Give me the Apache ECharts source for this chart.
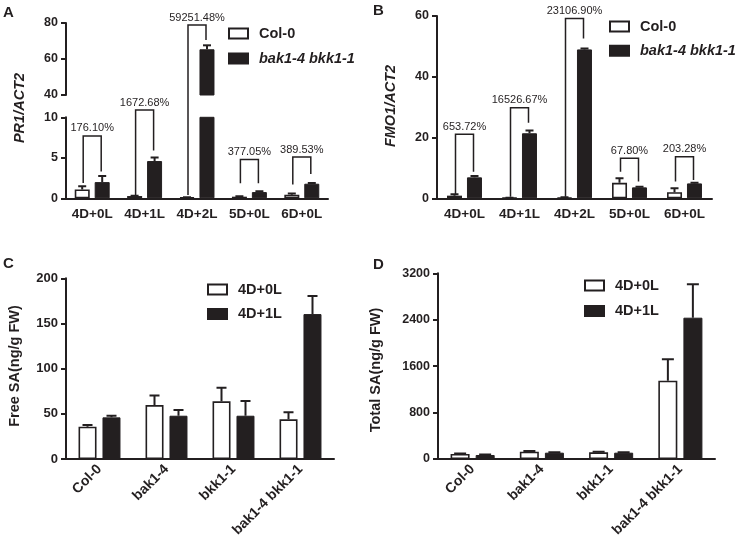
<!DOCTYPE html>
<html>
<head>
<meta charset="utf-8">
<script src="https://cdn.jsdelivr.net/npm/echarts@6/dist/echarts.min.js"></script>
<style>
html, body { margin: 0; padding: 0; background: #fff; }
#main { width: 741px; height: 548px; }
</style>
</head>
<body>
<div id="main"></div>
<script>
// categories
var stages = ['4D+0L', '4D+1L', '4D+2L', '5D+0L', '6D+0L'];
var genotypes = ['Col-0', 'bak1-4', 'bkk1-1', 'bak1-4 bkk1-1'];

// A: PR1/ACT2
var pr1Col = [1.1, 0.28, 0.11, 0.2, 0.45];
var pr1ColErr = [0.4, 0.05, 0.03, 0.05, 0.15];
var pr1Bak = [2.0, 4.6, 65.4, 0.77, 1.8];
var pr1BakErr = [0.75, 0.45, 2.2, 0.1, 0.1];
var pr1Pct = ['176.10%', '1672.68%', '59251.48%', '377.05%', '389.53%'];
var pr1BrLeft = [1.9, 0.3, 0.4, 1.85, 1.7];
var pr1BrTop = [7.7, 10.9, 78.9, 4.8, 5.1];
var pr1BrRight = [3.3, 5.9, 70.6, 1.85, 3.0];

// B: FMO1/ACT2
var fmoCol = [0.87, 0.13, 0.21, 5.1, 2.0];
var fmoColErr = [0.45, 0.07, 0.1, 1.5, 1.3];
var fmoBak = [6.9, 21.4, 49.0, 3.6, 4.9];
var fmoBakErr = [0.4, 0.9, 0.3, 0.2, 0.2];
var fmoPct = ['653.72%', '16526.67%', '23106.90%', '67.80%', '203.28%'];
var fmoBrLeft = [1.1, 0.5, 0.5, 8.75, 5.5];
var fmoBrTop = [21.1, 29.8, 59.2, 13.2, 13.7];
var fmoBrRight = [8.75, 24.9, 52.6, 5.5, 6.0];

// C: free SA
var freeDark = [35.7, 59.7, 63.8, 43.9];
var freeDarkErr = [2.0, 10.7, 15.1, 7.8];
var freeLight = [46.1, 47.9, 47.9, 160.4];
var freeLightErr = [1.8, 6.3, 16.3, 19.9];

// D: total SA
var totalDark = [86, 126, 115, 1350];
var totalDarkErr = [10, 12, 10, 368];
var totalLight = [69, 109, 109, 2435];
var totalLightErr = [8, 8, 8, 576];

var ink = '#231f20';
var FONT = "'Liberation Sans', Arial, sans-serif";

var chart = echarts.init(document.getElementById('main'));

function xAx(grid, cats, rotate, size) {
  return {
    type: 'category', gridIndex: grid, data: cats,
    axisLine: { lineStyle: { color: ink, width: 2 } },
    axisTick: { alignWithLabel: true, length: 4, lineStyle: { color: ink, width: 2 } },
    axisLabel: { color: ink, fontWeight: 'bold', fontSize: size, fontFamily: FONT,
      margin: rotate ? 8 : 9, rotate: rotate, interval: 0 }
  };
}
function yAx(grid, min, max, step, size) {
  return {
    type: 'value', gridIndex: grid, min: min, max: max, interval: step,
    splitLine: { show: false },
    axisLine: { show: true, lineStyle: { color: ink, width: 2 } },
    axisTick: { show: true, length: 5, lineStyle: { color: ink, width: 2 } },
    axisLabel: { color: ink, fontWeight: 'bold', fontSize: size, fontFamily: FONT, margin: 8,
      formatter: function (v) { return String(v); } }
  };
}

function bars(k, name, data, w, gapPct, white) {
  return {
    type: 'bar', name: name, xAxisIndex: k, yAxisIndex: k, data: data,
    barWidth: w, barGap: gapPct, silent: true, clip: true,
    itemStyle: { color: white ? '#fff' : ink, borderColor: ink, borderWidth: white ? 1.6 : 1 }
  };
}

function errors(k, vals, errs, off, cap) {
  return {
    type: 'custom', xAxisIndex: k, yAxisIndex: k, silent: true, clip: true, z: 3,
    data: vals.map(function (v, i) { return [i, v, errs[i]]; }),
    encode: { x: 0, y: 1 },
    renderItem: function (params, api) {
      var base = api.coord([api.value(0), api.value(1)]);
      var top = api.coord([api.value(0), api.value(1) + api.value(2)]);
      var x = base[0] + off;
      var st = { stroke: ink, lineWidth: 2 };
      return { type: 'group', children: [
        { type: 'line', shape: { x1: x, y1: base[1], x2: x, y2: top[1] }, style: st },
        { type: 'line', shape: { x1: x - cap, y1: top[1], x2: x + cap, y2: top[1] }, style: st }
      ] };
    }
  };
}

function legend(left, top, gap, names, italic) {
  return {
    left: left, top: top, padding: 0, orient: 'vertical', itemGap: gap, itemWidth: 19, itemHeight: 10,
    icon: 'rect', selectedMode: false,
    textStyle: { color: ink, fontSize: 14.5, fontWeight: 'bold', fontFamily: FONT, padding: [0, 0, 0, 6] },
    data: names.map(function (n, i) {
      return italic && i === 1 ? { name: n, textStyle: { fontStyle: 'italic' } } : { name: n };
    })
  };
}

var series = [];
// A lower and upper segments of the broken axis
[0, 1].forEach(function (k) {
  series.push(bars(k, 'Col-0', pr1Col, 15, '33%', true));
  series.push(bars(k, 'bak1-4 bkk1-1', pr1Bak, 15, '33%', false));
  series.push(errors(k, pr1Col, pr1ColErr, -10, 4));
  series.push(errors(k, pr1Bak, pr1BakErr, 10, 4));
});
series.push(bars(2, 'Col-0', fmoCol, 15, '33%', true));
series.push(bars(2, 'bak1-4 bkk1-1', fmoBak, 15, '33%', false));
series.push(errors(2, fmoCol, fmoColErr, -10, 4));
series.push(errors(2, fmoBak, fmoBakErr, 10, 4));
series.push(bars(3, '4D+0L', freeDark, 18, '33%', true));
series.push(bars(3, '4D+1L', freeLight, 18, '33%', false));
series.push(errors(3, freeDark, freeDarkErr, -12, 5));
series.push(errors(3, freeLight, freeLightErr, 12, 5));
series.push(bars(4, '4D+0L', totalDark, 19, '32%', true));
series.push(bars(4, '4D+1L', totalLight, 19, '32%', false));
series.push(errors(4, totalDark, totalDarkErr, -12.5, 6));
series.push(errors(4, totalLight, totalLightErr, 12.5, 6));

var upperX = xAx(1, stages, 0, 13);
upperX.show = false;

chart.setOption({
  animation: false,
  backgroundColor: '#fff',
  textStyle: { fontFamily: FONT },
  grid: [
    { left: 66, top: 117.3, width: 262, height: 81 },
    { left: 66, top: 23, width: 262, height: 72 },
    { left: 437, top: 16, width: 275, height: 182.3 },
    { left: 66, top: 278.3, width: 268, height: 180.7 },
    { left: 438, top: 273.3, width: 277, height: 185.7 }
  ],
  xAxis: [
    xAx(0, stages, 0, 13.5),
    upperX,
    xAx(2, stages, 0, 13.5),
    xAx(3, genotypes, 45, 14),
    xAx(4, genotypes, 45, 14)
  ],
  yAxis: [
    yAx(0, 0, 10, 5, 12.5),
    yAx(1, 40, 80, 20, 12.5),
    yAx(2, 0, 60, 20, 12.5),
    yAx(3, 0, 200, 50, 13),
    yAx(4, 0, 3200, 800, 12.5)
  ],
  legend: [
    legend(228, 26, 10, ['Col-0', 'bak1-4 bkk1-1'], true),
    legend(609, 19, 9.3, ['Col-0', 'bak1-4 bkk1-1'], true),
    legend(207, 282, 9.5, ['4D+0L', '4D+1L'], false),
    legend(584, 278, 10.5, ['4D+0L', '4D+1L'], false)
  ],
  series: series
});

// annotations: comparison brackets, panel letters, axis titles
var g = [];
function px(k, i, v) {
  return chart.convertToPixel({ xAxisIndex: k, yAxisIndex: k }, [i, v]);
}
function txt(x, y, s, font, rot, align, valign) {
  return { type: 'text', x: x, y: y, rotation: rot || 0, z: 10,
    style: { text: s, font: font, fill: ink,
      textAlign: align || 'center', textVerticalAlign: valign || 'middle',
      align: align || 'center', verticalAlign: valign || 'middle' } };
}
function brackets(pick, lefts, tops, rights, labels, off) {
  labels.forEach(function (t, i) {
    var L = px(pick(lefts[i]), i, lefts[i]);
    var T = px(pick(tops[i]), i, tops[i]);
    var R = px(pick(rights[i]), i, rights[i]);
    var xl = L[0] - off, xr = R[0] + off;
    g.push({ type: 'polyline', z: 10,
      shape: { points: [[xl, L[1]], [xl, T[1]], [xr, T[1]], [xr, R[1]]] },
      style: { stroke: ink, fill: 'none', lineWidth: 1.5 } });
    g.push(txt((xl + xr) / 2, T[1] - 2, t, '11px ' + FONT, 0, 'center', 'bottom'));
  });
}
brackets(function (v) { return v > 40 ? 1 : 0; }, pr1BrLeft, pr1BrTop, pr1BrRight, pr1Pct, 9);
brackets(function () { return 2; }, fmoBrLeft, fmoBrTop, fmoBrRight, fmoPct, 9);

g.push(txt(3, 5, 'A', 'bold 15px ' + FONT, 0, 'left', 'top'));
g.push(txt(373, 3, 'B', 'bold 15px ' + FONT, 0, 'left', 'top'));
g.push(txt(3, 256, 'C', 'bold 15px ' + FONT, 0, 'left', 'top'));
g.push(txt(373, 257, 'D', 'bold 15px ' + FONT, 0, 'left', 'top'));
g.push(txt(20, 108, 'PR1/ACT2', 'italic bold 14.5px ' + FONT, Math.PI / 2));
g.push(txt(391, 106, 'FMO1/ACT2', 'italic bold 14.5px ' + FONT, Math.PI / 2));
g.push(txt(15, 366, 'Free SA(ng/g FW)', 'bold 14.5px ' + FONT, Math.PI / 2));
g.push(txt(376, 370, 'Total SA(ng/g FW)', 'bold 14.5px ' + FONT, Math.PI / 2));

chart.setOption({ graphic: g });
</script>
</body>
</html>
